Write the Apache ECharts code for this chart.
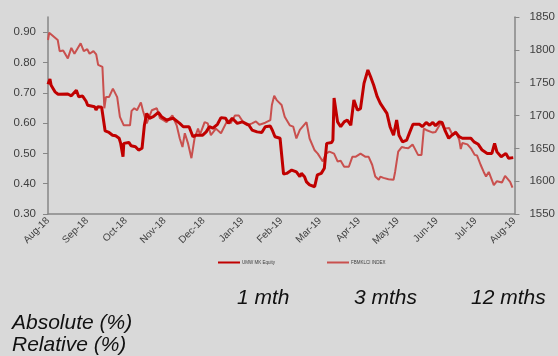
<!DOCTYPE html>
<html>
<head>
<meta charset="utf-8">
<script src="https://cdn.jsdelivr.net/npm/echarts@6/dist/echarts.min.js"></script>
<style>
  html, body { margin: 0; padding: 0; background: #D9D9D9; }
  #chart { width: 558px; height: 356px; }
</style>
</head>
<body>
<div id="chart"></div>
<script>
// Month tick labels (x positions are months since the first tick)
const monthLabels = ['Aug-18','Sep-18','Oct-18','Nov-18','Dec-18','Jan-19','Feb-19',
  'Mar-19','Apr-19','May-19','Jun-19','Jul-19','Aug-19'];

const seriesNames = ['UMW MK Equity', 'FBMKLCI INDEX'];

// Share price (left axis), [month, price]
const equity = [
  [0.00,0.728],[0.05,0.745],[0.08,0.725],[0.18,0.703],[0.26,0.695],[0.51,0.696],
  [0.60,0.690],[0.73,0.708],[0.79,0.687],[0.89,0.689],[0.98,0.672],[1.02,0.659],
  [1.20,0.654],[1.235,0.643],[1.28,0.654],[1.38,0.652],[1.43,0.648],[1.47,0.574],
  [1.57,0.569],[1.66,0.560],[1.74,0.558],[1.83,0.550],[1.87,0.533],[1.93,0.489],
  [1.95,0.533],[2.08,0.536],[2.14,0.525],[2.25,0.522],[2.33,0.511],[2.42,0.517],
  [2.48,0.593],[2.54,0.632],[2.61,0.616],[2.71,0.621],[2.84,0.635],[2.92,0.621],
  [3.05,0.610],[3.09,0.613],[3.22,0.616],[3.39,0.599],[3.48,0.588],[3.63,0.588],
  [3.73,0.555],[3.81,0.560],[3.98,0.560],[4.07,0.571],[4.15,0.588],[4.24,0.583],
  [4.36,0.596],[4.45,0.618],[4.57,0.616],[4.64,0.599],[4.74,0.616],[4.87,0.599],
  [5.00,0.604],[5.17,0.593],[5.25,0.577],[5.38,0.571],[5.50,0.569],[5.59,0.588],
  [5.72,0.590],[5.78,0.574],[5.84,0.555],[5.97,0.550],[6.02,0.544],[6.06,0.432],
  [6.14,0.434],[6.27,0.445],[6.39,0.439],[6.48,0.423],[6.52,0.434],[6.60,0.423],
  [6.65,0.406],[6.73,0.396],[6.86,0.390],[6.90,0.387],[6.93,0.429],[7.03,0.434],
  [7.11,0.451],[7.17,0.533],[7.30,0.536],[7.33,0.544],[7.36,0.683],[7.45,0.604],
  [7.53,0.588],[7.62,0.604],[7.70,0.610],[7.79,0.593],[7.87,0.676],[7.96,0.643],
  [8.04,0.648],[8.13,0.731],[8.23,0.775],[8.30,0.753],[8.38,0.725],[8.47,0.687],
  [8.55,0.665],[8.72,0.632],[8.80,0.588],[8.89,0.560],[8.97,0.610],[9.03,0.560],
  [9.12,0.538],[9.23,0.544],[9.31,0.571],[9.39,0.596],[9.56,0.596],[9.63,0.588],
  [9.73,0.602],[9.82,0.593],[9.90,0.602],[9.97,0.591],[10.07,0.604],[10.14,0.602],
  [10.22,0.574],[10.31,0.550],[10.39,0.560],[10.49,0.569],[10.58,0.555],[10.66,0.550],
  [10.88,0.550],[10.96,0.538],[11.07,0.530],[11.17,0.511],[11.30,0.500],[11.42,0.500],
  [11.49,0.533],[11.55,0.505],[11.66,0.489],[11.78,0.500],[11.85,0.484],[11.97,0.486]
];

// Index level (right axis), [month, level]
const index = [
  [0.00,1815],[0.03,1826],[0.08,1823],[0.25,1815],[0.30,1798],[0.39,1799],
  [0.51,1787],[0.60,1803],[0.68,1794],[0.84,1810],[0.92,1798],[1.01,1801],
  [1.07,1794],[1.17,1798],[1.24,1793],[1.29,1777],[1.40,1774],[1.45,1711],
  [1.49,1728],[1.57,1728],[1.67,1741],[1.78,1728],[1.85,1698],[1.95,1685],
  [2.11,1685],[2.15,1707],[2.22,1711],[2.29,1708],[2.39,1720],[2.44,1708],
  [2.54,1688],[2.67,1708],[2.80,1711],[2.88,1696],[2.97,1693],[3.05,1690],
  [3.14,1696],[3.20,1700],[3.31,1685],[3.39,1665],[3.46,1652],[3.52,1673],
  [3.60,1658],[3.69,1635],[3.77,1665],[3.86,1680],[3.91,1671],[4.03,1690],
  [4.11,1688],[4.19,1670],[4.32,1680],[4.45,1673],[4.62,1693],[4.70,1688],
  [4.81,1700],[4.91,1700],[5.02,1690],[5.12,1685],[5.25,1688],[5.35,1691],
  [5.44,1686],[5.59,1689],[5.72,1693],[5.76,1716],[5.82,1730],[5.89,1723],
  [5.94,1723],[6.01,1716],[6.09,1698],[6.22,1685],[6.31,1683],[6.39,1665],
  [6.48,1678],[6.65,1690],[6.73,1665],[6.86,1647],[6.94,1642],[7.07,1630],
  [7.15,1642],[7.24,1645],[7.36,1642],[7.45,1630],[7.53,1631],[7.62,1622],
  [7.74,1622],[7.83,1637],[7.91,1637],[8.04,1642],[8.17,1637],[8.25,1637],
  [8.34,1625],[8.42,1607],[8.51,1602],[8.55,1607],[8.63,1605],[8.76,1603],
  [8.89,1602],[8.93,1614],[9.01,1645],[9.10,1652],[9.18,1651],[9.27,1650],
  [9.38,1656],[9.52,1640],[9.61,1640],[9.67,1680],[9.73,1678],[9.90,1674],
  [9.97,1675],[10.11,1689],[10.20,1680],[10.32,1681],[10.41,1670],[10.49,1676],
  [10.58,1663],[10.62,1649],[10.66,1658],[10.79,1656],[10.88,1650],[10.98,1640],
  [11.04,1639],[11.13,1625],[11.21,1614],[11.27,1607],[11.34,1614],[11.47,1594],
  [11.55,1600],[11.68,1598],[11.76,1608],[11.89,1599],[11.95,1590]
];

// Performance table headings
const periodHeads = ['1 mth', '3 mths', '12 mths'];
const rowHeads = ['Absolute (%)', 'Relative (%)'];

const axisGrey = '#868686';
const labelGrey = '#404040';
const darkRed = '#C00000';
const lightRed = '#C9504E';
const tableFont = 'italic 21px "Liberation Sans", Arial, sans-serif';

const chart = echarts.init(document.getElementById('chart'), null, { renderer: 'canvas' });

const headX = [237, 354, 471];
const graphics = [];
periodHeads.forEach((t, i) => graphics.push({
  type: 'text', left: headX[i], top: 288,
  style: { text: t, font: tableFont, fill: '#111111' }
}));
rowHeads.forEach((t, i) => graphics.push({
  type: 'text', left: 12, top: 313 + i * 22,
  style: { text: t, font: tableFont, fill: '#111111' }
}));

chart.setOption({
  backgroundColor: '#D9D9D9',
  animation: false,
  grid: { left: 48, right: 37, top: 17, bottom: 142, containLabel: false },
  legend: [
    {
      data: [seriesNames[0]], left: 213, top: 255,
      itemWidth: 22, itemHeight: 2, icon: 'rect', itemGap: 0,
      textStyle: { fontSize: 4.5, color: '#404040', padding: [0, 0, 0, -3] }
    },
    {
      data: [seriesNames[1]], left: 322, top: 255,
      itemWidth: 22, itemHeight: 2, icon: 'rect', itemGap: 0,
      textStyle: { fontSize: 4.5, color: '#404040', padding: [0, 0, 0, -3] }
    }
  ],
  xAxis: {
    type: 'value', min: 0, max: 12, interval: 1,
    splitLine: { show: false },
    axisLine: { show: true, lineStyle: { color: axisGrey, width: 1.5 } },
    axisTick: { show: false },
    axisLabel: {
      rotate: 45, margin: 5, fontSize: 10, color: labelGrey,
      fontFamily: '"Liberation Sans", Arial, sans-serif',
      formatter: v => monthLabels[Math.round(v)] || ''
    }
  },
  yAxis: [
    {
      type: 'value', min: 0.3, max: 0.95, interval: 0.1, position: 'left',
      splitLine: { show: false },
      axisLine: { show: true, lineStyle: { color: axisGrey, width: 1.5 } },
      axisTick: { show: true, length: 5, lineStyle: { color: axisGrey } },
      axisLabel: {
        margin: 12, fontSize: 11.5, color: labelGrey, showMaxLabel: false,
        fontFamily: '"Liberation Sans", Arial, sans-serif',
        formatter: v => v.toFixed(2)
      }
    },
    {
      type: 'value', min: 1550, max: 1850, interval: 50, position: 'right',
      splitLine: { show: false },
      axisLine: { show: true, lineStyle: { color: axisGrey, width: 1.5 } },
      axisTick: { show: true, length: 5, lineStyle: { color: axisGrey } },
      axisLabel: {
        margin: 15, fontSize: 11.5, color: labelGrey,
        fontFamily: '"Liberation Sans", Arial, sans-serif',
        formatter: v => String(Math.round(v))
      }
    }
  ],
  series: [
    {
      name: seriesNames[1], type: 'line', yAxisIndex: 1, data: index,
      showSymbol: false, z: 2, color: lightRed,
      lineStyle: { color: lightRed, width: 2 }
    },
    {
      name: seriesNames[0], type: 'line', yAxisIndex: 0, data: equity,
      showSymbol: false, z: 3, color: darkRed,
      lineStyle: { color: darkRed, width: 3 }
    }
  ],
  graphic: graphics
});
</script>
</body>
</html>
